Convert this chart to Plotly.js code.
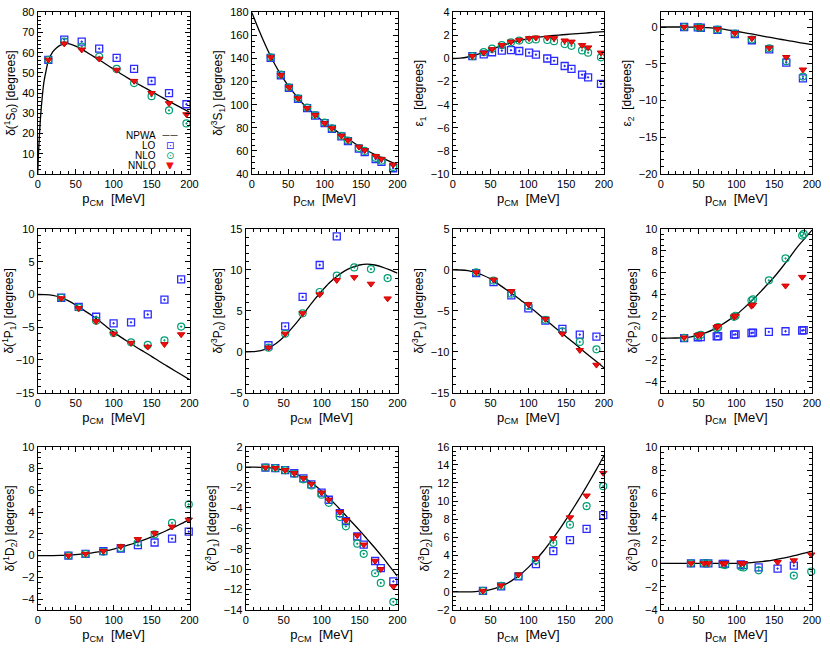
<!DOCTYPE html>
<html>
<head>
<meta charset="utf-8">
<script src="https://cdn.plot.ly/plotly-3.0.1.min.js"></script>
<style>
  html, body { margin: 0; padding: 0; background: #fff; }
  #chart { width: 830px; height: 653px; }
</style>
</head>
<body>
<div id="chart"></div>
<script>
// NPWA curves are read at these momenta (MeV)
const pGrid = [0, 10, 20, 30, 40, 50, 60, 70, 80, 90, 100, 110, 120, 130, 140, 150, 160, 170, 180, 190, 200];
const pGrid1S0 = [0, 1, 2, 3, 5, 8, 11, 14, 20, 25, 30, 40, 50, 60, 70, 80, 90, 100, 110, 120, 130, 140, 150, 160, 170, 180, 190, 200];

// 1S0
const p1S0 = [14, 35, 58, 81, 104, 127, 150, 173, 196];
const lo1S0 = [56.5, 66.5, 65.5, 62, 57.5, 52, 46, 40, 34.5];
const nlo1S0 = [56.5, 65.5, 63, 58, 52, 45, 38.5, 31.5, 25];
const nnlo1S0 = [56.5, 64.5, 61.5, 57, 51.5, 46, 40, 35, 29.5];
const npwa1S0 = [0, 10, 17, 24, 34, 45, 51, 56, 60.5, 62.5, 63.8, 64.5, 63.3, 61.3, 59, 56.7, 54.3, 51.9, 49.5, 47.2, 45, 42.9, 40.8, 38.7, 36.6, 34.6, 32.6, 30.6];

// 3S1
const p3S1 = [26, 40, 51, 63.5, 76, 87, 100, 110, 123, 132, 147, 155, 170, 178, 194];
const lo3S1 = [140.5, 125.5, 114.5, 105, 97, 90.5, 84, 79, 72.5, 68.5, 62, 59, 53, 50.5, 45];
const nlo3S1 = [141, 126, 115, 105.5, 97.5, 91, 84.5, 79.5, 73, 69, 62.5, 60, 54, 51.5, 46];
const nnlo3S1 = [141, 125.5, 115, 105.5, 97, 91, 84, 79.5, 73, 69, 63.5, 60.5, 55.5, 53, 48];
const npwa3S1 = [180, 164.5, 150, 137, 126, 116.5, 108.5, 101, 95, 89.5, 84.5, 80, 75.5, 71.5, 67, 63, 59.7, 56.5, 53.5, 50.7, 48];

// epsilon 1
const pE1 = [26, 41, 52, 65, 77, 88, 101, 110, 125, 134, 148, 157, 171, 179, 196];
const loE1 = [0.2, 0.36, 0.54, 0.68, 0.72, 0.65, 0.5, 0.33, 0, -0.2, -0.65, -0.9, -1.4, -1.63, -2.2];
const nloE1 = [0.2, 0.55, 0.85, 1.15, 1.4, 1.55, 1.62, 1.65, 1.6, 1.5, 1.25, 1.1, 0.7, 0.5, 0.1];
const nnloE1 = [0.2, 0.5, 0.8, 1.15, 1.45, 1.6, 1.75, 1.8, 1.8, 1.75, 1.55, 1.45, 1.15, 0.95, 0.5];
const npwaE1 = [0, 0.03, 0.13, 0.3, 0.5, 0.75, 1.0, 1.22, 1.42, 1.58, 1.72, 1.82, 1.9, 1.97, 2.03, 2.08, 2.13, 2.18, 2.23, 2.28, 2.33];

// epsilon 2
const pE2 = [31, 49, 53, 75, 98, 120.5, 143.5, 166, 188];
const loE2 = [0, -0.05, -0.1, -0.4, -0.95, -1.8, -3.05, -4.85, -7.0];
const nloE2 = [0, -0.05, -0.1, -0.35, -0.9, -1.7, -2.9, -4.65, -6.75];
const nnloE2 = [0, -0.05, -0.05, -0.3, -0.85, -1.55, -2.85, -4.1, -5.8];
const npwaE2 = [0, 0, 0, 0, -0.01, -0.03, -0.08, -0.15, -0.27, -0.42, -0.58, -0.76, -0.95, -1.14, -1.33, -1.52, -1.7, -1.88, -2.06, -2.23, -2.4];

// 1P1
const p1P1 = [31, 54, 77, 100, 123, 145, 167, 189];
const lo1P1 = [-0.5, -1.9, -3.4, -4.4, -4.25, -3.05, -0.8, 2.3];
const nlo1P1 = [-0.5, -2.0, -4.0, -5.9, -7.3, -7.7, -7.0, -4.9];
const nnlo1P1 = [-0.6, -2.1, -4.1, -6.0, -7.4, -8.0, -7.6, -6.1];
const npwa1P1 = [0, -0.02, -0.15, -0.45, -0.95, -1.6, -2.35, -3.1, -3.95, -4.85, -5.75, -6.55, -7.3, -8.05, -8.75, -9.45, -10.2, -10.9, -11.6, -12.3, -13.0];

// 3P0
const p3P0 = [30, 52, 75, 97.5, 120, 143, 165, 187];
const lo3P0 = [0.8, 3.1, 6.7, 10.6, 14.1, null, null, null];
const nlo3P0 = [0.5, 2.2, 4.7, 7.3, 9.3, 10.3, 10.1, 9.0];
const nnlo3P0 = [0.5, 2.2, 4.7, 7.0, 8.75, 9.1, 8.3, 6.5];
const npwa3P0 = [0, 0.02, 0.15, 0.45, 1.0, 1.8, 2.8, 3.9, 5.1, 6.3, 7.4, 8.4, 9.2, 9.85, 10.3, 10.6, 10.7, 10.6, 10.35, 10.0, 9.6];

// 3P1
const p3P1 = [31, 54, 77.5, 100, 122.5, 145, 168, 190];
const lo3P1 = [-0.4, -1.5, -3.1, -4.7, -6.2, -7.2, -7.9, -8.15];
const nlo3P1 = [-0.3, -1.3, -2.9, -4.4, -6.1, -7.5, -8.8, -9.7];
const nnlo3P1 = [-0.3, -1.2, -2.6, -4.2, -6.0, -7.8, -9.8, -11.6];
const npwa3P1 = [0, -0.01, -0.08, -0.3, -0.65, -1.1, -1.7, -2.35, -3.0, -3.7, -4.4, -5.15, -5.9, -6.65, -7.4, -8.15, -8.9, -9.7, -10.45, -11.2, -11.95];

// 3P2
const p3P2 = [31, 49, 53, 74, 76, 97, 99, 120, 122, 143, 165, 187, 189];
const lo3P2 = [0, 0.08, 0.1, 0.17, 0.19, 0.32, 0.35, 0.47, 0.5, 0.57, 0.63, 0.7, 0.73];
const nlo3P2 = [0.02, 0.2, 0.3, 0.9, 1.0, 1.95, 2.05, 3.45, 3.55, 5.3, 7.3, 9.4, 9.55];
const nnlo3P2 = [0.05, 0.25, 0.35, 1.0, 1.1, 1.95, 2.05, 2.95, 3.05, null, 4.8, 5.6, null];
const npwa3P2 = [0, 0, 0.01, 0.04, 0.12, 0.27, 0.5, 0.8, 1.2, 1.65, 2.15, 2.75, 3.4, 4.1, 4.85, 5.6, 6.45, 7.35, 8.3, 9.1, 9.9];

// 1D2
const p1D2 = [40.5, 63, 86.5, 109.5, 132, 154, 177, 199];
const lo1D2 = [0, 0.15, 0.4, 0.65, 0.95, 1.2, 1.55, 2.2];
const nlo1D2 = [0, 0.15, 0.35, 0.7, 1.2, 1.95, 3.0, 4.7];
const nnlo1D2 = [0, 0.15, 0.4, 0.85, 1.5, 2.05, 2.65, 3.3];
const npwa1D2 = [0, 0, 0, 0.01, 0.04, 0.08, 0.15, 0.23, 0.33, 0.45, 0.6, 0.78, 0.98, 1.2, 1.45, 1.72, 2.0, 2.3, 2.62, 2.95, 3.3];

// 3D1
const p3D1 = [26, 39, 52, 64, 76, 86.5, 100, 109.5, 124, 132, 147, 155.5, 170.5, 178, 194.5];
const lo3D1 = [-0.05, -0.1, -0.3, -0.6, -1.1, -1.7, -2.5, -3.2, -4.5, -5.3, -6.8, -7.6, -9.2, -9.9, -11.2];
const nlo3D1 = [-0.05, -0.1, -0.3, -0.65, -1.2, -1.8, -2.7, -3.5, -4.9, -5.8, -7.5, -8.5, -10.4, -11.35, -13.2];
const nnlo3D1 = [-0.05, -0.1, -0.3, -0.6, -1.1, -1.65, -2.5, -3.2, -4.4, -5.2, -6.7, -7.6, -9.2, -10.0, -11.7];
const npwa3D1 = [0, 0, -0.02, -0.06, -0.15, -0.3, -0.5, -0.8, -1.2, -1.7, -2.35, -3.05, -3.8, -4.6, -5.4, -6.2, -7.05, -7.9, -8.8, -9.75, -10.7];

// 3D2
const p3D2 = [40, 64, 87, 110, 133, 155, 177, 199];
const lo3D2 = [0.1, 0.6, 1.7, 3.05, 4.5, 5.7, 6.95, 8.45];
const nlo3D2 = [0.1, 0.65, 1.75, 3.5, 5.4, 7.4, 9.45, 11.65];
const nnlo3D2 = [0.1, 0.7, 1.9, 3.7, 5.9, 8.2, 10.6, 13.1];
const npwa3D2 = [0, 0, 0, 0.03, 0.1, 0.25, 0.5, 0.85, 1.35, 1.95, 2.7, 3.55, 4.5, 5.6, 6.75, 8.0, 9.3, 10.65, 12.05, 13.5, 15.0];

// 3D3
const p3D3 = [40, 57, 63, 82, 85, 106, 109.5, 129.5, 154.5, 176, 199];
const lo3D3 = [0, 0, 0, -0.05, -0.05, -0.1, -0.15, -0.35, -0.45, -0.2, null];
const nlo3D3 = [0, 0, 0, -0.1, -0.15, -0.3, -0.35, -0.6, null, -1.05, -0.7];
const nnlo3D3 = [0, 0, 0, 0, 0, 0, 0, null, 0.1, 0.25, 0.75];
const npwa3D3 = [0, 0, 0, 0, 0, 0, 0, 0, 0, 0, 0, 0.02, 0.06, 0.12, 0.2, 0.3, 0.42, 0.56, 0.71, 0.87, 1.05];

function wave(l, s, j) {
    return 'δ(<sup>' + l + '</sup>' + s + '<sub>' + j + '</sub>) [degrees]';
}

const channels = [
    { ytitle: wave(1, 'S', 0), p: p1S0, lo: lo1S0, nlo: nlo1S0, nnlo: nnlo1S0, cx: pGrid1S0, npwa: npwa1S0, yr: [0, 80], dt: 10, mdt: 2 },
    { ytitle: wave(3, 'S', 1), p: p3S1, lo: lo3S1, nlo: nlo3S1, nnlo: nnlo3S1, cx: pGrid, npwa: npwa3S1, yr: [40, 180], dt: 20, mdt: 5 },
    { ytitle: 'ε<sub>1</sub>  [degrees]', p: pE1, lo: loE1, nlo: nloE1, nnlo: nnloE1, cx: pGrid, npwa: npwaE1, yr: [-10, 4], dt: 2, mdt: 0.5 },
    { ytitle: 'ε<sub>2</sub>  [degrees]', p: pE2, lo: loE2, nlo: nloE2, nnlo: nnloE2, cx: pGrid, npwa: npwaE2, yr: [-20, 2], dt: 5, mdt: 1 },
    { ytitle: wave(1, 'P', 1), p: p1P1, lo: lo1P1, nlo: nlo1P1, nnlo: nnlo1P1, cx: pGrid, npwa: npwa1P1, yr: [-15, 10], dt: 5, mdt: 1 },
    { ytitle: wave(3, 'P', 0), p: p3P0, lo: lo3P0, nlo: nlo3P0, nnlo: nnlo3P0, cx: pGrid, npwa: npwa3P0, yr: [-5, 15], dt: 5, mdt: 1 },
    { ytitle: wave(3, 'P', 1), p: p3P1, lo: lo3P1, nlo: nlo3P1, nnlo: nnlo3P1, cx: pGrid, npwa: npwa3P1, yr: [-15, 5], dt: 5, mdt: 1 },
    { ytitle: wave(3, 'P', 2), p: p3P2, lo: lo3P2, nlo: nlo3P2, nnlo: nnlo3P2, cx: pGrid, npwa: npwa3P2, yr: [-5, 10], dt: 2, mdt: 0.5 },
    { ytitle: wave(1, 'D', 2), p: p1D2, lo: lo1D2, nlo: nlo1D2, nnlo: nnlo1D2, cx: pGrid, npwa: npwa1D2, yr: [-5, 10], dt: 2, mdt: 0.5 },
    { ytitle: wave(3, 'D', 1), p: p3D1, lo: lo3D1, nlo: nlo3D1, nnlo: nnlo3D1, cx: pGrid, npwa: npwa3D1, yr: [-14, 2], dt: 2, mdt: 0.5 },
    { ytitle: wave(3, 'D', 2), p: p3D2, lo: lo3D2, nlo: nlo3D2, nnlo: nnlo3D2, cx: pGrid, npwa: npwa3D2, yr: [-2, 16], dt: 2, mdt: 0.5 },
    { ytitle: wave(3, 'D', 3), p: p3D3, lo: lo3D3, nlo: nlo3D3, nnlo: nnlo3D3, cx: pGrid, npwa: npwa3D3, yr: [-4, 10], dt: 2, mdt: 0.5 }
];

// panel frames in pixels
const W = 830, H = 653;
const colLeft = [[37.7, 251.7, 452.7, 660.7], [37.7, 245.7, 452.7, 660.7], [37.7, 245.7, 452.7, 660.7]];
const colRight = [189.5, 397.5, 604, 812];
const rowTop = [12.3, 229, 446.7];
const rowBottom = [174, 392.7, 610];

const FONT = 'Liberation Sans, Arial, Helvetica, sans-serif';
const C_LO = '#2b2bff', C_NLO = '#009e73', C_NNLO = '#f01010';

const axisBase = {
    showline: true, linecolor: '#000', linewidth: 1, mirror: 'allticks',
    ticks: 'inside', ticklen: 5, tickwidth: 1, tickcolor: '#000',
    showgrid: false, zeroline: false, automargin: false,
    tickfont: { family: FONT, size: 11, color: '#000' }
};

const data = [];
const layout = {
    width: W, height: H,
    margin: { l: 0, r: 0, t: 0, b: 0 },
    paper_bgcolor: '#fff', plot_bgcolor: '#fff',
    showlegend: false,
    font: { family: FONT, color: '#000' },
    annotations: []
};

channels.forEach((ch, i) => {
    const row = Math.floor(i / 4), col = i % 4;
    const sfx = i === 0 ? '' : String(i + 1);
    const xa = 'x' + sfx, ya = 'y' + sfx;

    layout['xaxis' + sfx] = Object.assign({}, axisBase, {
        anchor: ya,
        domain: [colLeft[row][col] / W, colRight[col] / W],
        range: [0, 200], dtick: 50, tick0: 0,
        minor: { ticks: 'inside', ticklen: 3, tickcolor: '#000', dtick: 10, showgrid: false },
        title: { text: 'p<sub>CM</sub>  [MeV]', font: { family: FONT, size: 13 }, standoff: 4 }
    });
    layout['yaxis' + sfx] = Object.assign({}, axisBase, {
        anchor: xa,
        domain: [1 - rowBottom[row] / H, 1 - rowTop[row] / H],
        range: ch.yr, dtick: ch.dt, tick0: 0,
        minor: { ticks: 'inside', ticklen: 3, tickcolor: '#000', dtick: ch.mdt, showgrid: false },
        title: { text: ch.ytitle, font: { family: FONT, size: 12 }, standoff: 4 }
    });

    data.push({
        x: ch.cx, y: ch.npwa, xaxis: xa, yaxis: ya, name: 'NPWA',
        type: 'scatter', mode: 'lines',
        line: { color: '#000', width: 1.3, shape: 'spline', smoothing: 0.8 }
    });
    data.push({
        x: ch.p, y: ch.lo, xaxis: xa, yaxis: ya, name: 'LO',
        type: 'scatter', mode: 'markers', cliponaxis: false,
        marker: { symbol: 'square-open-dot', size: 7, color: C_LO, line: { color: C_LO, width: 1.3 } }
    });
    data.push({
        x: ch.p, y: ch.nlo, xaxis: xa, yaxis: ya, name: 'NLO',
        type: 'scatter', mode: 'markers', cliponaxis: false,
        marker: { symbol: 'circle-open-dot', size: 7, color: C_NLO, line: { color: C_NLO, width: 1.2 } }
    });
    data.push({
        x: ch.p, y: ch.nnlo, xaxis: xa, yaxis: ya, name: 'NNLO',
        type: 'scatter', mode: 'markers', cliponaxis: false,
        marker: { symbol: 'triangle-down', size: 6.5, color: C_NNLO, line: { color: '#d00000', width: 1 } }
    });
});

// key in the first panel: names on the left, symbols on the right
const keyNames = ['NPWA', 'LO', 'NLO', 'NNLO'];
const keyGlyphs = ['——', '⊡', '⊙', '▼'];
const keyColors = ['#000', C_LO, C_NLO, C_NNLO];
const keyRows = [135, 145, 155, 165];
keyNames.forEach((name, k) => {
    layout.annotations.push({
        xref: 'paper', yref: 'paper', x: 157 / W, y: 1 - keyRows[k] / H,
        xanchor: 'right', yanchor: 'middle', align: 'right', valign: 'middle',
        showarrow: false, height: 8, borderpad: 0,
        text: name, font: { family: FONT, size: 10, color: '#000' }
    });
    layout.annotations.push({
        xref: 'paper', yref: 'paper', x: 170 / W, y: 1 - keyRows[k] / H,
        xanchor: 'center', yanchor: 'middle', align: 'center', valign: 'middle',
        showarrow: false, height: 8, borderpad: 0,
        text: keyGlyphs[k], font: { family: 'DejaVu Sans', size: k === 0 ? 8 : 10, color: keyColors[k] }
    });
});

Plotly.newPlot('chart', data, layout, { displayModeBar: false, staticPlot: true });
</script>
</body>
</html>
